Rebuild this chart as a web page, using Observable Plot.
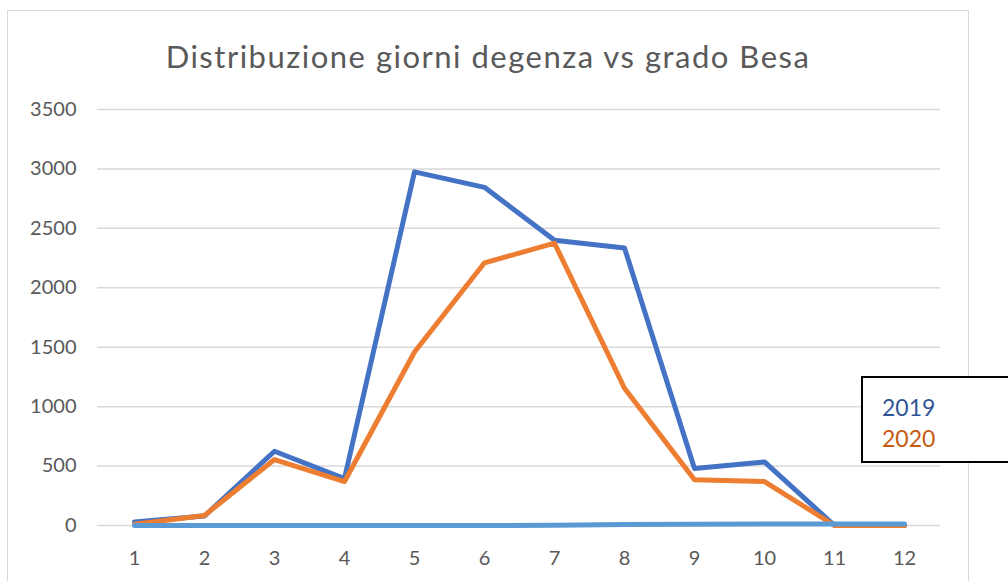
<!DOCTYPE html>
<html>
<head>
<meta charset="utf-8">
<script src="https://cdn.jsdelivr.net/npm/d3@7"></script>
<script src="https://cdn.jsdelivr.net/npm/@observablehq/plot@0.6"></script>
<style>
  html, body { margin: 0; padding: 0; background: #fff; }
  #wrap { position: relative; width: 1008px; height: 581px; overflow: hidden; font-family: Lato, "Open Sans", sans-serif; }
  #frame { position: absolute; left: 7px; top: 10px; width: 960px; height: 640px; border: 1.5px solid #D9D9D9; pointer-events: none; }
  #title { position: absolute; left: 7px; width: 962px; top: 41px; line-height: 1; text-align: center; font-size: 31px; letter-spacing: 1.5px; color: #595959; font-weight: 400; }
  #legend { position: absolute; left: 861px; top: 376px; width: 170px; height: 83px; border: 2px solid #000; background: #fff; }
  #legend div { position: absolute; left: 19px; font-size: 23px; line-height: 1; }
</style>
</head>
<body>
<div id="wrap"></div>
<script>
const grades = [1, 2, 3, 4, 5, 6, 7, 8, 9, 10, 11, 12];
const yTicks = [0, 500, 1000, 1500, 2000, 2500, 3000, 3500];
const series2019 = [30, 80, 625, 395, 2975, 2845, 2400, 2335, 480, 535, 0, 0];
const series2020 = [10, 85, 555, 370, 1460, 2210, 2375, 1155, 385, 370, 0, 0];
const series3 = [0, 0, 0, 0, 0, 0, 2, 8, 10, 12, 12, 12];
const legendNames = ["2019", "2020"];

const toRows = (vals) => grades.map((g, i) => ({grade: g, value: vals[i]}));

const chart = Plot.plot({
  width: 1008,
  height: 581,
  marginLeft: 97,
  marginRight: 68,
  marginTop: 109,
  marginBottom: 56,
  x: {type: "point", domain: grades, padding: 0.5, label: null},
  y: {domain: [0, 3500], label: null},
  style: {fontFamily: "Lato, 'Open Sans', sans-serif", fontSize: "20px", color: "#595959", background: "white"},
  marks: [
    Plot.ruleY(yTicks, {stroke: "#D9D9D9", strokeWidth: 1.5}),
    Plot.axisY(yTicks, {tickSize: 0, tickPadding: 21, fill: "#595959", fontSize: 20, label: null, tickFormat: d3.format("d")}),
    Plot.axisX(grades, {tickSize: 0, tickPadding: 25, fill: "#595959", fontSize: 20, label: null}),
    Plot.line(toRows(series2019), {x: "grade", y: "value", stroke: "#4472C4", strokeWidth: 5, strokeLinecap: "round", strokeLinejoin: "round"}),
    Plot.line(toRows(series2020), {x: "grade", y: "value", stroke: "#ED7D31", strokeWidth: 5, strokeLinecap: "round", strokeLinejoin: "round"}),
    Plot.line(toRows(series3), {x: "grade", y: "value", stroke: "#5B9BD5", strokeWidth: 5, strokeLinecap: "round", strokeLinejoin: "round"})
  ]
});

const wrap = document.getElementById("wrap");
chart.style.position = "absolute";
chart.style.left = "0px";
chart.style.top = "0px";
wrap.appendChild(chart);

const frame = document.createElement("div");
frame.id = "frame";
wrap.appendChild(frame);

const title = document.createElement("div");
title.id = "title";
title.textContent = "Distribuzione giorni degenza vs grado Besa";
wrap.appendChild(title);

const legend = document.createElement("div");
legend.id = "legend";
const colors = ["#2F5597", "#C55A11"];
legendNames.forEach((name, i) => {
  const d = document.createElement("div");
  d.textContent = name;
  d.style.color = colors[i];
  d.style.top = (18 + i * 31) + "px";
  legend.appendChild(d);
});
wrap.appendChild(legend);
</script>
</body>
</html>
